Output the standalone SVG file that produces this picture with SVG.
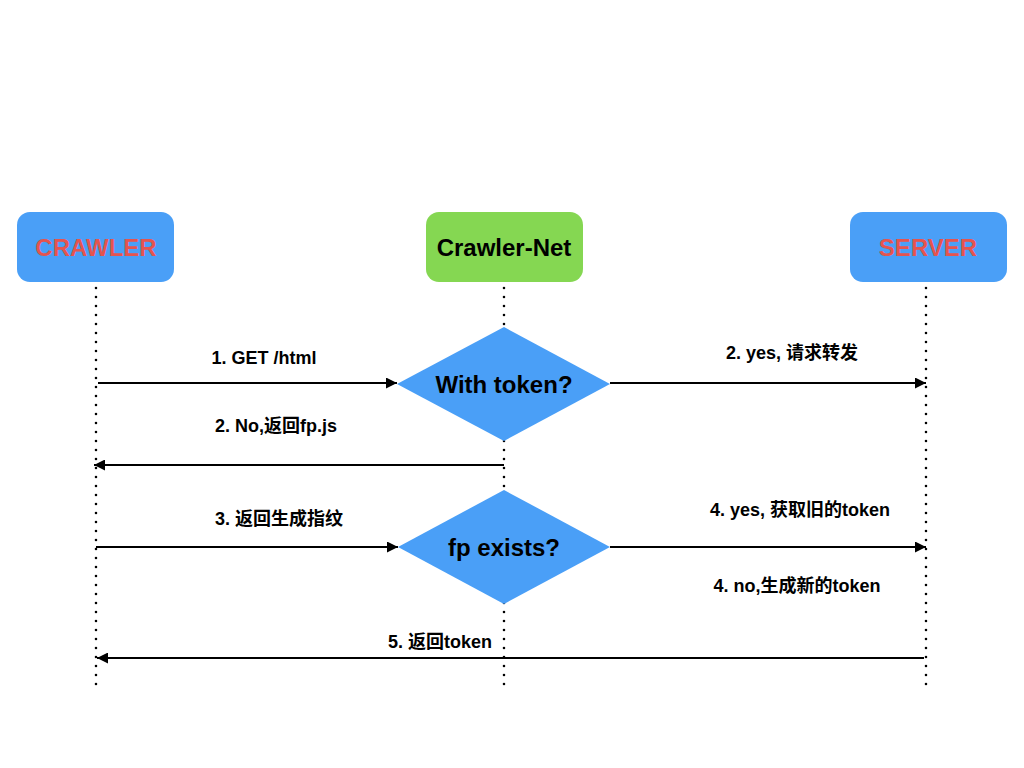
<svg xmlns="http://www.w3.org/2000/svg" width="1024" height="768" viewBox="0 0 1024 768">
<style>
.box{stroke:none}
.blue{fill:#4a9ff7}
.green{fill:#85d752}
.ntxt{font-family:"Liberation Sans","Noto Sans CJK SC",sans-serif;font-weight:bold;font-size:24px;text-anchor:middle;dominant-baseline:central}
.red{fill:#e5544f}
.blk{fill:#000}
.dia{fill:#4a9ff7}
.dtxt{font-family:"Liberation Sans","Noto Sans CJK SC",sans-serif;font-weight:bold;font-size:24px;text-anchor:middle;dominant-baseline:central;fill:#000}
.life{stroke:#000;stroke-width:2.6;stroke-linecap:round;stroke-dasharray:0 9;fill:none}
.msg{stroke:#000;stroke-width:2;fill:none}
.lbl{font-family:"Liberation Sans","Noto Sans CJK SC",sans-serif;font-weight:bold;font-size:18px;text-anchor:middle;fill:#000}
</style>
<defs>
<marker id="ah" viewBox="0 0 10 10" refX="10" refY="5" markerWidth="5.5" markerHeight="5.5" orient="auto" markerUnits="strokeWidth">
<path d="M0,0 L10,5 L0,10 z" fill="#000"/>
</marker>
</defs>
<rect width="1024" height="768" fill="#fff"/>
<g id="lifelines">
<line class="life" x1="96" y1="288" x2="96" y2="692"/>
<line class="life" x1="504" y1="288" x2="504" y2="692"/>
<line class="life" x1="926" y1="288" x2="926" y2="692"/>
</g>
<g id="crawler">
<rect class="box blue" x="17" y="212" width="157" height="70" rx="13"/>
<text class="ntxt red" x="96" y="247">CRAWLER</text>
</g>
<g id="crawler-net">
<rect class="box green" x="426" y="212" width="157" height="70" rx="13"/>
<text class="ntxt blk" x="504" y="247">Crawler-Net</text>
</g>
<g id="server">
<rect class="box blue" x="850" y="212" width="157" height="70" rx="13"/>
<text class="ntxt red" x="928" y="247">SERVER</text>
</g>
<g id="with-token">
<polygon class="dia" points="504,327 610,384 504,441 397,384"/>
<text class="dtxt" x="504" y="384">With token?</text>
</g>
<g id="fp-exists">
<polygon class="dia" points="504,490 610,547 504,604 398,547"/>
<text class="dtxt" x="504" y="547">fp exists?</text>
</g>
<g id="connectors">
<line class="msg" x1="98" y1="383" x2="397" y2="383" marker-end="url(#ah)"/>
<line class="msg" x1="610" y1="383" x2="926" y2="383" marker-end="url(#ah)"/>
<line class="msg" x1="504" y1="465" x2="94" y2="465" marker-end="url(#ah)"/>
<line class="msg" x1="96" y1="547" x2="398" y2="547" marker-end="url(#ah)"/>
<line class="msg" x1="610" y1="547" x2="926" y2="547" marker-end="url(#ah)"/>
<line class="msg" x1="924" y1="658" x2="97" y2="658" marker-end="url(#ah)"/>
</g>
<g id="labels">
<text class="lbl" x="264" y="364">1. GET /html</text>
<text class="lbl" x="276" y="432">2. No,返回fp.js</text>
<text class="lbl" x="792" y="359">2. yes, 请求转发</text>
<text class="lbl" x="279" y="525">3. 返回生成指纹</text>
<text class="lbl" x="800" y="516">4. yes, 获取旧的token</text>
<text class="lbl" x="797" y="592">4. no,生成新的token</text>
<text class="lbl" x="440" y="648">5. 返回token</text>
</g>
</svg>
